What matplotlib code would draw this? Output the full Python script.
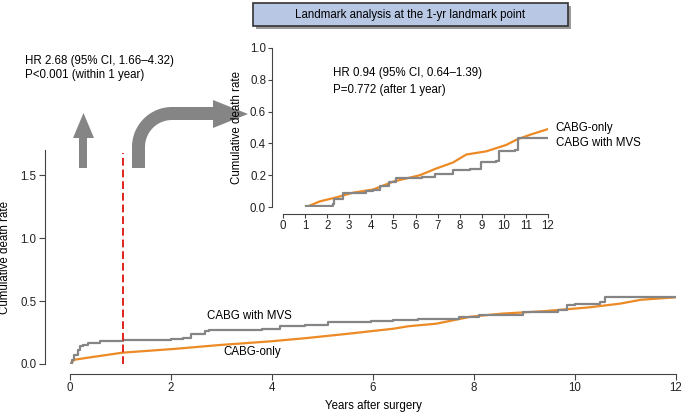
import numpy as np
import matplotlib
matplotlib.use("Agg")
from matplotlib import pyplot as plt
from matplotlib.patches import Polygon, Rectangle

# main plot: cumulative death rate over 0-12 years
mvs_x = [0, 0.03, 0.08, 0.15, 0.2, 0.25, 0.35, 0.6, 1.04, 2.0, 2.24, 2.4, 2.68, 2.76, 3.8, 4.15, 4.66, 5.1,
         5.96, 6.4, 6.9, 7.7, 8.1, 8.98, 9.67, 9.84, 10.0, 10.5, 10.6, 12.0]
mvs_y = [0, 0.03, 0.07, 0.11, 0.14, 0.15, 0.166, 0.18, 0.19, 0.197, 0.21, 0.24, 0.26, 0.27, 0.28, 0.30, 0.31, 0.33,
         0.34, 0.35, 0.36, 0.376, 0.39, 0.41, 0.43, 0.47, 0.48, 0.49, 0.535, 0.535]
only_x = [0, 0.09, 0.35, 1.04, 2.07, 2.94, 3.97, 4.66, 5.5, 6.4, 6.7, 7.25, 7.94, 8.55, 9.4,
          10.28, 10.9, 11.3, 12.0]
only_y = [0, 0.034, 0.05, 0.09, 0.12, 0.15, 0.18, 0.205, 0.24, 0.28, 0.30, 0.32, 0.376, 0.40, 0.42,
          0.45, 0.48, 0.51, 0.53]

# landmark inset: after 1 year
lm_mvs_x = [1.06, 2.26, 2.3, 2.7, 3.77, 4.08, 4.4, 4.8, 5.13, 6.3, 6.9, 7.7, 8.45, 8.98, 9.66,
            9.8, 10.5, 10.64, 12.0]
lm_mvs_y = [0.006, 0.02, 0.05, 0.09, 0.10, 0.11, 0.13, 0.16, 0.18, 0.19, 0.21, 0.23, 0.24, 0.28, 0.29,
            0.35, 0.36, 0.435, 0.435]
lm_only_x = [1.06, 1.66, 2.4, 3.17, 4.08, 5.0, 6.2, 6.9, 7.7, 8.3, 9.2, 10.1, 10.6, 11.2, 12.0]
lm_only_y = [0.0, 0.035, 0.06, 0.09, 0.11, 0.16, 0.20, 0.24, 0.28, 0.33, 0.35, 0.39, 0.425, 0.455, 0.49]

landmark = 1.05
main_yticks = [0.0, 0.5, 1.0, 1.5]
inset_yticks = [0.0, 0.2, 0.4, 0.6, 0.8, 1.0]

ORANGE = "#ec8a25"
GRAY = "#858585"
AXC = "#444444"
FS = 8.3

plt.rcParams["font.family"] = ["Liberation Sans", "DejaVu Sans"]
plt.rcParams["font.size"] = FS

W, H = 684, 412
fig = plt.figure(figsize=(W / 100, H / 100), dpi=100)


def px_rect(x0, x1, y_at_0, y_at_top):
    return [x0 / W, (H - y_at_0) / H, (x1 - x0) / W, (y_at_0 - y_at_top) / H]


def style_axes(ax, left_out, bottom_out, ybound, xbound, ticklen, tickpad):
    for s in ["top", "right"]:
        ax.spines[s].set_visible(False)
    ax.spines["left"].set_position(("outward", left_out))
    ax.spines["bottom"].set_position(("outward", bottom_out))
    ax.spines["left"].set_bounds(*ybound)
    ax.spines["bottom"].set_bounds(*xbound)
    for s in ["left", "bottom"]:
        ax.spines[s].set_color(AXC)
        ax.spines[s].set_linewidth(0.8)
    ax.tick_params(colors=AXC, labelcolor="#222222", length=ticklen, width=0.8, pad=tickpad, labelsize=FS)
    ax.patch.set_alpha(0)


# main axes
ax = fig.add_axes(px_rect(70, 676, 364, 150))
ax.plot(only_x, only_y, color=ORANGE, lw=1.6)
ax.plot(mvs_x, mvs_y, color=GRAY, lw=1.6, drawstyle="steps-post")
ax.set_xlim(0, 12)
ax.set_ylim(0, 1.7)
ax.set_xticks(range(0, 13, 2))
ax.set_yticks(main_yticks)
ax.set_yticklabels([f"{v:.1f}" for v in main_yticks])
style_axes(ax, 18, 7, (0, 1.7), (0, 12), 4.3, 1.8)
ax.axvline(landmark, ymin=0, ymax=1.68 / 1.7, color="#e0241d", lw=1.4, ls=(0, (4, 2)))
ax.set_xlabel("Years after surgery", fontsize=FS)
ax.xaxis.set_label_coords(0.5, -0.17)
ax.set_ylabel("Cumulative death rate", fontsize=FS)
ax.yaxis.set_label_coords(-0.098, 0.5)
ax.text(3.56, 0.38, "CABG with MVS", ha="center", va="center", fontsize=FS)
ax.text(3.6, 0.095, "CABG-only", ha="center", va="center", fontsize=FS)

# inset axes
ins = fig.add_axes(px_rect(283, 548, 207, 48))
ins.plot(lm_only_x, lm_only_y, color=ORANGE, lw=1.6)
ins.plot(lm_mvs_x, lm_mvs_y, color=GRAY, lw=1.6, drawstyle="steps-post")
ins.set_xlim(0, 12)
ins.set_ylim(0, 1.0)
ins.set_xticks(range(0, 13))
ins.set_yticks(inset_yticks)
ins.set_yticklabels([f"{v:.1f}" for v in inset_yticks])
style_axes(ins, 8, 5, (0, 1.0), (0, 12), 3, 1.2)
ins.set_ylabel("Cumulative death rate", fontsize=FS)
ins.yaxis.set_label_coords(-0.151, 0.5)
ins.text(2.26, 0.84, "HR 0.94 (95% CI, 0.64\u20131.39)", va="center", fontsize=FS)
ins.text(2.26, 0.735, "P=0.772 (after 1 year)", va="center", fontsize=FS)
ins.text(12.35, 0.497, "CABG-only", va="center", fontsize=FS, clip_on=False)
ins.text(12.35, 0.40, "CABG with MVS", va="center", fontsize=FS, clip_on=False)

# overlay in pixel coordinates for box, arrows and left annotation
ov = fig.add_axes([0, 0, 1, 1], zorder=-1)
ov.set_xlim(0, W)
ov.set_ylim(H, 0)
ov.axis("off")

ov.add_patch(Rectangle((256, 6), 315, 23, facecolor="#9a9a9a", edgecolor="none"))
ov.add_patch(Rectangle((253, 3), 315, 23, facecolor="#b8c7e4", edgecolor="#333333", lw=1.2))
ov.text(410.5, 14.5, "Landmark analysis at the 1-yr landmark point", ha="center", va="center", fontsize=FS)

ov.text(25, 61, "HR 2.68 (95% CI, 1.66\u20134.32)", va="center", fontsize=FS)
ov.text(25, 75, "P<0.001 (within 1 year)", va="center", fontsize=FS)

# straight up arrow
ov.add_patch(Polygon([(79, 168), (87, 168), (87, 138), (94, 138), (83.5, 113), (73, 138), (79, 138)],
                     closed=True, facecolor=GRAY, edgecolor="none"))

# curved arrow
cx, cy, ro, ri = 172, 147, 40, 27
th = np.linspace(np.pi, np.pi / 2, 30)
outer = [(cx + ro * np.cos(t), cy - ro * np.sin(t)) for t in th]
inner = [(cx + ri * np.cos(t), cy - ri * np.sin(t)) for t in th[::-1]]
pts = [(132, 168)] + outer + [(213, 107), (213, 100), (248, 114), (213, 128), (213, 120)] + inner + [(145, 168)]
ov.add_patch(Polygon(pts, closed=True, facecolor=GRAY, edgecolor="none"))

fig.savefig("out.png", dpi=100)
